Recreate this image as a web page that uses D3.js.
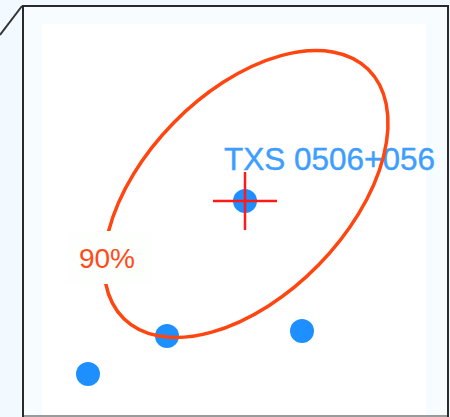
<!DOCTYPE html>
<html><head><meta charset="utf-8">
<script src="https://cdn.jsdelivr.net/npm/d3@7"></script>
<style>html,body{margin:0;padding:0;background:#f3faff;}svg{display:block;}</style>
</head><body>
<script>
// Offsets in degrees relative to TXS 0506+056 (x: right, y: up)
const sourceNames = ["TXS 0506+056", "src2", "src3", "src4", "src5"];
const sourceDx = [0.00, -1.57, -0.78, 0.57, 1.13];
const sourceDy = [0.00, -1.73, -1.35, -1.30, -2.30];
const crossErrX = [0.32];
const crossErrY = [0.29];
const ellipseCenter = [0.01, 0.07];
const ellipseAxes = [1.745, 1.015];
const ellipseAngleDeg = [45.6];
const ellipseLabel = ["90%"];
const labelPos = [-1.40, -0.57];

const W = 450, H = 417;
const svg = d3.select("body").append("svg").attr("width", W).attr("height", H);
const x = d3.scaleLinear().domain([-2.23, 2.05]).range([22, 450]);
const y = d3.scaleLinear().domain([2.01, -2.16]).range([0, 417]);

svg.append("rect").attr("width", W).attr("height", H).attr("fill", "#f3faff");
// panel
svg.append("rect").attr("x", 23).attr("y", 6).attr("width", 425).attr("height", 411).attr("fill", "#f6fcff");
svg.append("rect").attr("x", 42).attr("y", 24).attr("width", 384).attr("height", 393).attr("fill", "#ffffff");

svg.append("clipPath").attr("id", "clip").append("rect")
  .attr("x", 23).attr("y", 6).attr("width", 425).attr("height", 409);
const g = svg.append("g").attr("clip-path", "url(#clip)");

// sources
g.selectAll("circle.src").data(sourceDx).join("circle").attr("class", "src")
  .attr("cx", d => x(d)).attr("cy", (d, i) => y(sourceDy[i])).attr("r", 12)
  .attr("fill", "#1e8fff");

// source label
g.append("text").attr("x", x(sourceDx[0]) - 21).attr("y", y(sourceDy[0]) - 31)
  .attr("font-family", "Liberation Sans, Arial, sans-serif").attr("font-size", 31.5)
  .attr("fill", "#3d9eff").attr("stroke", "#3d9eff").attr("stroke-width", 0.4).text(sourceNames[0]);

// ellipse
const kx = x(1) - x(0), ky = y(0) - y(1);
g.append("ellipse")
  .attr("cx", 0).attr("cy", 0).attr("rx", ellipseAxes[0] * kx).attr("ry", ellipseAxes[1] * ky)
  .attr("transform", `translate(${x(ellipseCenter[0])},${y(ellipseCenter[1])}) rotate(${-ellipseAngleDeg[0]})`)
  .attr("fill", "none").attr("stroke", "#ff4510").attr("stroke-width", 3.5);

// label box
const lx = x(labelPos[0]), ly = y(labelPos[1]);
g.append("rect").attr("x", lx - 38).attr("y", ly - 27).attr("width", 83).attr("height", 53).attr("fill", "#fdfffc");
g.append("text").attr("x", lx + 2).attr("y", ly + 10).attr("text-anchor", "middle")
  .attr("font-family", "Liberation Sans, Arial, sans-serif").attr("font-size", 28)
  .attr("fill", "#ff4a1a").text(ellipseLabel[0]);

// cross
const cx0 = x(sourceDx[0]), cy0 = y(sourceDy[0]);
g.append("line").attr("x1", x(sourceDx[0] - crossErrX[0])).attr("x2", x(sourceDx[0] + crossErrX[0]))
  .attr("y1", cy0).attr("y2", cy0).attr("stroke", "#ff1a1a").attr("stroke-width", 2.5);
g.append("line").attr("x1", cx0).attr("x2", cx0)
  .attr("y1", y(sourceDy[0] + crossErrY[0])).attr("y2", y(sourceDy[0] - crossErrY[0]))
  .attr("stroke", "#ff1a1a").attr("stroke-width", 2.5);

// frame
svg.append("line").attr("x1", 0).attr("y1", 35).attr("x2", 22).attr("y2", 6).attr("stroke", "#333").attr("stroke-width", 2);
svg.append("line").attr("x1", 23).attr("y1", 416).attr("x2", 449).attr("y2", 416).attr("stroke", "#9a9a9a").attr("stroke-width", 2);
svg.append("path").attr("d", "M23,417 L23,6 L448,6 L448,417").attr("fill", "none").attr("stroke", "#2a2a2a").attr("stroke-width", 2);
</script>
</body></html>
